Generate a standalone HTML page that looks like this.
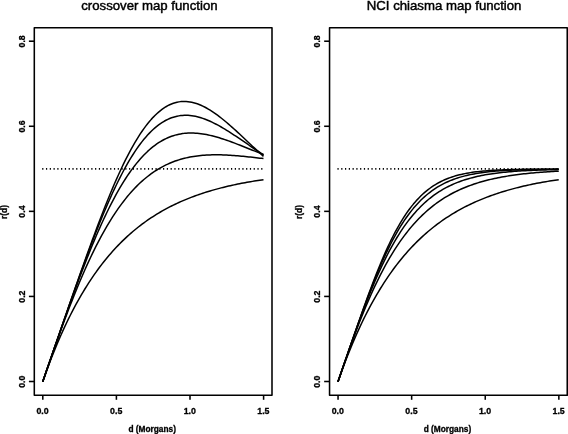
<!DOCTYPE html>
<html lang="en"><head><meta charset="utf-8"><title>map functions</title>
<style>
html,body{margin:0;padding:0;background:#fff;}
body{width:568px;height:434px;overflow:hidden;}
svg{display:block;}
.ttl{stroke:#000;stroke-width:0.45px;}
.lab text{stroke:#000;stroke-width:0.3px;}
</style></head><body>
<svg width="568" height="434" viewBox="0 0 568 434">
<rect x="0" y="0" width="568" height="434" fill="#fff"/>
<g fill="none" stroke="#000" stroke-width="1.55" stroke-linejoin="round" stroke-linecap="butt">
<rect x="34.30" y="27.75" width="237.70" height="367.50"/>
<line x1="42.80" y1="395.25" x2="42.80" y2="399.80"/>
<line x1="116.40" y1="395.25" x2="116.40" y2="399.80"/>
<line x1="190.00" y1="395.25" x2="190.00" y2="399.80"/>
<line x1="263.60" y1="395.25" x2="263.60" y2="399.80"/>
<line x1="34.30" y1="381.50" x2="28.90" y2="381.50"/>
<line x1="34.30" y1="296.43" x2="28.90" y2="296.43"/>
<line x1="34.30" y1="211.35" x2="28.90" y2="211.35"/>
<line x1="34.30" y1="126.27" x2="28.90" y2="126.27"/>
<line x1="34.30" y1="41.20" x2="28.90" y2="41.20"/>
</g>
<g fill="none" stroke="#000" stroke-width="1.5" stroke-linejoin="round" stroke-linecap="butt">
<polyline points="42.70,381.75 44.54,376.50 46.38,371.38 48.22,366.38 50.06,361.51 51.90,356.76 53.74,352.12 55.58,347.60 57.42,343.20 59.26,338.90 61.10,334.70 62.94,330.61 64.78,326.63 66.62,322.74 68.46,318.94 70.30,315.24 72.14,311.63 73.98,308.11 75.82,304.68 77.66,301.33 79.50,298.06 81.34,294.88 83.18,291.77 85.02,288.74 86.86,285.79 88.70,282.91 90.54,280.10 92.38,277.35 94.22,274.68 96.06,272.07 97.90,269.53 99.74,267.05 101.58,264.63 103.42,262.27 105.26,259.97 107.10,257.72 108.94,255.53 110.78,253.40 112.62,251.32 114.46,249.29 116.30,247.31 118.14,245.37 119.98,243.49 121.82,241.65 123.66,239.86 125.50,238.11 127.34,236.41 129.18,234.74 131.02,233.12 132.86,231.54 134.70,230.00 136.54,228.49 138.38,227.03 140.22,225.60 142.06,224.20 143.90,222.84 145.74,221.51 147.58,220.22 149.42,218.95 151.26,217.72 153.10,216.52 154.94,215.35 156.78,214.20 158.62,213.09 160.46,212.00 162.30,210.94 164.14,209.91 165.98,208.90 167.82,207.92 169.66,206.96 171.50,206.02 173.34,205.11 175.18,204.22 177.02,203.35 178.86,202.50 180.70,201.68 182.54,200.87 184.38,200.09 186.22,199.32 188.06,198.58 189.90,197.85 191.74,197.14 193.58,196.44 195.42,195.77 197.26,195.11 199.10,194.46 200.94,193.84 202.78,193.23 204.62,192.63 206.46,192.05 208.30,191.48 210.14,190.93 211.98,190.39 213.82,189.86 215.66,189.35 217.50,188.85 219.34,188.36 221.18,187.88 223.02,187.42 224.86,186.96 226.70,186.52 228.54,186.09 230.38,185.67 232.22,185.26 234.06,184.86 235.90,184.47 237.74,184.09 239.58,183.72 241.42,183.36 243.26,183.00 245.10,182.66 246.94,182.32 248.78,182.00 250.62,181.68 252.46,181.37 254.30,181.06 256.14,180.77 257.98,180.48 259.82,180.19 261.66,179.92 263.50,179.65"/>
<polyline points="42.70,381.75 44.54,376.43 46.38,371.12 48.22,365.83 50.06,360.55 51.90,355.29 53.74,350.07 55.58,344.88 57.42,339.73 59.26,334.62 61.10,329.55 62.94,324.54 64.78,319.59 66.62,314.69 68.46,309.85 70.30,305.08 72.14,300.38 73.98,295.74 75.82,291.18 77.66,286.69 79.50,282.27 81.34,277.93 83.18,273.68 85.02,269.50 86.86,265.40 88.70,261.39 90.54,257.45 92.38,253.61 94.22,249.84 96.06,246.17 97.90,242.57 99.74,239.07 101.58,235.64 103.42,232.31 105.26,229.06 107.10,225.89 108.94,222.81 110.78,219.82 112.62,216.91 114.46,214.08 116.30,211.34 118.14,208.68 119.98,206.10 121.82,203.60 123.66,201.18 125.50,198.84 127.34,196.57 129.18,194.39 131.02,192.28 132.86,190.24 134.70,188.28 136.54,186.39 138.38,184.57 140.22,182.82 142.06,181.14 143.90,179.52 145.74,177.98 147.58,176.49 149.42,175.07 151.26,173.72 153.10,172.42 154.94,171.18 156.78,170.00 158.62,168.88 160.46,167.81 162.30,166.79 164.14,165.83 165.98,164.92 167.82,164.06 169.66,163.24 171.50,162.47 173.34,161.75 175.18,161.07 177.02,160.44 178.86,159.85 180.70,159.29 182.54,158.78 184.38,158.30 186.22,157.86 188.06,157.46 189.90,157.08 191.74,156.75 193.58,156.44 195.42,156.16 197.26,155.91 199.10,155.69 200.94,155.50 202.78,155.34 204.62,155.19 206.46,155.08 208.30,154.98 210.14,154.91 211.98,154.85 213.82,154.82 215.66,154.81 217.50,154.81 219.34,154.83 221.18,154.87 223.02,154.93 224.86,154.99 226.70,155.08 228.54,155.17 230.38,155.28 232.22,155.40 234.06,155.53 235.90,155.67 237.74,155.82 239.58,155.97 241.42,156.14 243.26,156.31 245.10,156.50 246.94,156.68 248.78,156.88 250.62,157.08 252.46,157.28 254.30,157.49 256.14,157.70 257.98,157.92 259.82,158.13 261.66,158.36 263.50,158.58"/>
<polyline points="42.70,381.75 44.54,376.43 46.38,371.12 48.22,365.80 50.06,360.49 51.90,355.18 53.74,349.87 55.58,344.58 57.42,339.29 59.26,334.02 61.10,328.77 62.94,323.53 64.78,318.31 66.62,313.13 68.46,307.97 70.30,302.84 72.14,297.75 73.98,292.70 75.82,287.69 77.66,282.73 79.50,277.81 81.34,272.95 83.18,268.15 85.02,263.40 86.86,258.72 88.70,254.10 90.54,249.55 92.38,245.06 94.22,240.66 96.06,236.32 97.90,232.07 99.74,227.89 101.58,223.80 103.42,219.79 105.26,215.87 107.10,212.03 108.94,208.28 110.78,204.63 112.62,201.06 114.46,197.59 116.30,194.21 118.14,190.93 119.98,187.74 121.82,184.64 123.66,181.65 125.50,178.75 127.34,175.94 129.18,173.24 131.02,170.63 132.86,168.11 134.70,165.70 136.54,163.37 138.38,161.15 140.22,159.02 142.06,156.98 143.90,155.04 145.74,153.19 147.58,151.43 149.42,149.76 151.26,148.18 153.10,146.69 154.94,145.28 156.78,143.96 158.62,142.73 160.46,141.58 162.30,140.50 164.14,139.51 165.98,138.60 167.82,137.76 169.66,137.00 171.50,136.31 173.34,135.69 175.18,135.14 177.02,134.66 178.86,134.24 180.70,133.89 182.54,133.60 184.38,133.37 186.22,133.19 188.06,133.08 189.90,133.02 191.74,133.01 193.58,133.05 195.42,133.13 197.26,133.27 199.10,133.45 200.94,133.67 202.78,133.94 204.62,134.24 206.46,134.58 208.30,134.95 210.14,135.36 211.98,135.80 213.82,136.27 215.66,136.77 217.50,137.29 219.34,137.84 221.18,138.41 223.02,139.00 224.86,139.62 226.70,140.25 228.54,140.89 230.38,141.56 232.22,142.23 234.06,142.92 235.90,143.62 237.74,144.33 239.58,145.04 241.42,145.77 243.26,146.50 245.10,147.23 246.94,147.97 248.78,148.70 250.62,149.44 252.46,150.18 254.30,150.92 256.14,151.66 257.98,152.39 259.82,153.12 261.66,153.84 263.50,154.56"/>
<polyline points="42.70,381.75 44.54,376.43 46.38,371.12 48.22,365.80 50.06,360.48 51.90,355.17 53.74,349.85 55.58,344.54 57.42,339.23 59.26,333.92 61.10,328.62 62.94,323.32 64.78,318.04 66.62,312.76 68.46,307.50 70.30,302.25 72.14,297.02 73.98,291.81 75.82,286.62 77.66,281.46 79.50,276.33 81.34,271.23 83.18,266.17 85.02,261.15 86.86,256.17 88.70,251.23 90.54,246.34 92.38,241.51 94.22,236.74 96.06,232.02 97.90,227.37 99.74,222.78 101.58,218.26 103.42,213.82 105.26,209.45 107.10,205.16 108.94,200.95 110.78,196.82 112.62,192.79 114.46,188.84 116.30,184.98 118.14,181.22 119.98,177.55 121.82,173.99 123.66,170.52 125.50,167.15 127.34,163.89 129.18,160.73 131.02,157.68 132.86,154.73 134.70,151.89 136.54,149.16 138.38,146.54 140.22,144.03 142.06,141.63 143.90,139.34 145.74,137.16 147.58,135.08 149.42,133.12 151.26,131.27 153.10,129.52 154.94,127.88 156.78,126.35 158.62,124.93 160.46,123.61 162.30,122.39 164.14,121.28 165.98,120.27 167.82,119.35 169.66,118.54 171.50,117.82 173.34,117.20 175.18,116.66 177.02,116.22 178.86,115.87 180.70,115.61 182.54,115.43 184.38,115.33 186.22,115.31 188.06,115.37 189.90,115.51 191.74,115.72 193.58,116.00 195.42,116.35 197.26,116.76 199.10,117.24 200.94,117.78 202.78,118.38 204.62,119.03 206.46,119.74 208.30,120.50 210.14,121.30 211.98,122.15 213.82,123.05 215.66,123.98 217.50,124.95 219.34,125.96 221.18,127.00 223.02,128.07 224.86,129.17 226.70,130.30 228.54,131.45 230.38,132.62 232.22,133.81 234.06,135.01 235.90,136.23 237.74,137.46 239.58,138.71 241.42,139.96 243.26,141.21 245.10,142.47 246.94,143.73 248.78,145.00 250.62,146.26 252.46,147.51 254.30,148.76 256.14,150.01 257.98,151.24 259.82,152.47 261.66,153.68 263.50,154.89"/>
<polyline points="42.70,381.75 44.54,376.43 46.38,371.12 48.22,365.80 50.06,360.48 51.90,355.16 53.74,349.85 55.58,344.53 57.42,339.22 59.26,333.90 61.10,328.59 62.94,323.28 64.78,317.97 66.62,312.66 68.46,307.37 70.30,302.08 72.14,296.79 73.98,291.52 75.82,286.26 77.66,281.01 79.50,275.78 81.34,270.57 83.18,265.39 85.02,260.22 86.86,255.09 88.70,249.98 90.54,244.92 92.38,239.88 94.22,234.89 96.06,229.95 97.90,225.05 99.74,220.21 101.58,215.42 103.42,210.70 105.26,206.03 107.10,201.44 108.94,196.91 110.78,192.46 112.62,188.09 114.46,183.80 116.30,179.59 118.14,175.47 119.98,171.45 121.82,167.51 123.66,163.68 125.50,159.94 127.34,156.31 129.18,152.78 131.02,149.37 132.86,146.06 134.70,142.86 136.54,139.78 138.38,136.81 140.22,133.96 142.06,131.22 143.90,128.61 145.74,126.12 147.58,123.75 149.42,121.49 151.26,119.37 153.10,117.36 154.94,115.48 156.78,113.72 158.62,112.08 160.46,110.56 162.30,109.17 164.14,107.89 165.98,106.73 167.82,105.70 169.66,104.77 171.50,103.97 173.34,103.28 175.18,102.70 177.02,102.23 178.86,101.88 180.70,101.62 182.54,101.48 184.38,101.43 186.22,101.49 188.06,101.65 189.90,101.89 191.74,102.24 193.58,102.67 195.42,103.19 197.26,103.80 199.10,104.48 200.94,105.25 202.78,106.09 204.62,107.00 206.46,107.99 208.30,109.04 210.14,110.15 211.98,111.33 213.82,112.56 215.66,113.85 217.50,115.18 219.34,116.57 221.18,118.00 223.02,119.47 224.86,120.98 226.70,122.53 228.54,124.10 230.38,125.71 232.22,127.34 234.06,129.00 235.90,130.67 237.74,132.36 239.58,134.07 241.42,135.79 243.26,137.52 245.10,139.25 246.94,140.98 248.78,142.72 250.62,144.45 252.46,146.18 254.30,147.91 256.14,149.62 257.98,151.32 259.82,153.01 261.66,154.68 263.50,156.33"/>
</g>
<line x1="42.20" y1="168.91" x2="262.80" y2="168.91" stroke="#000" stroke-width="1.6" stroke-dasharray="1.2 2.576"/>
<g font-family="'Liberation Sans', Arial, Helvetica, sans-serif" fill="#000">
<text x="149.40" y="10.1" font-size="13.2" text-anchor="middle" class="ttl">crossover map function</text>
<g font-size="8.3" font-weight="bold" text-anchor="middle" class="lab">
<text x="42.60" y="413.7" font-size="8.8">0.0</text>
<text x="116.20" y="413.7" font-size="8.8">0.5</text>
<text x="189.80" y="413.7" font-size="8.8">1.0</text>
<text x="263.40" y="413.7" font-size="8.8">1.5</text>
<text transform="translate(25.20 381.70) rotate(-90)" font-size="8.8">0.0</text>
<text transform="translate(25.20 296.62) rotate(-90)" font-size="8.8">0.2</text>
<text transform="translate(25.20 211.55) rotate(-90)" font-size="8.8">0.4</text>
<text transform="translate(25.20 126.47) rotate(-90)" font-size="8.8">0.6</text>
<text transform="translate(25.20 41.40) rotate(-90)" font-size="8.8">0.8</text>
<text x="152.20" y="432.4">d (Morgans)</text>
<text transform="translate(6.90 212.00) rotate(-90)">r(d)</text>
</g></g>
<g fill="none" stroke="#000" stroke-width="1.55" stroke-linejoin="round" stroke-linecap="butt">
<rect x="329.55" y="27.75" width="237.70" height="367.50"/>
<line x1="338.05" y1="395.25" x2="338.05" y2="399.80"/>
<line x1="411.65" y1="395.25" x2="411.65" y2="399.80"/>
<line x1="485.25" y1="395.25" x2="485.25" y2="399.80"/>
<line x1="558.85" y1="395.25" x2="558.85" y2="399.80"/>
<line x1="329.55" y1="381.50" x2="324.15" y2="381.50"/>
<line x1="329.55" y1="296.43" x2="324.15" y2="296.43"/>
<line x1="329.55" y1="211.35" x2="324.15" y2="211.35"/>
<line x1="329.55" y1="126.27" x2="324.15" y2="126.27"/>
<line x1="329.55" y1="41.20" x2="324.15" y2="41.20"/>
</g>
<g fill="none" stroke="#000" stroke-width="1.5" stroke-linejoin="round" stroke-linecap="butt">
<polyline points="337.95,381.75 339.79,376.50 341.63,371.38 343.47,366.38 345.31,361.51 347.15,356.76 348.99,352.12 350.83,347.60 352.67,343.20 354.51,338.90 356.35,334.70 358.19,330.61 360.03,326.63 361.87,322.74 363.71,318.94 365.55,315.24 367.39,311.63 369.23,308.11 371.07,304.68 372.91,301.33 374.75,298.06 376.59,294.88 378.43,291.77 380.27,288.74 382.11,285.79 383.95,282.91 385.79,280.10 387.63,277.35 389.47,274.68 391.31,272.07 393.15,269.53 394.99,267.05 396.83,264.63 398.67,262.27 400.51,259.97 402.35,257.72 404.19,255.53 406.03,253.40 407.87,251.32 409.71,249.29 411.55,247.31 413.39,245.37 415.23,243.49 417.07,241.65 418.91,239.86 420.75,238.11 422.59,236.41 424.43,234.74 426.27,233.12 428.11,231.54 429.95,230.00 431.79,228.49 433.63,227.03 435.47,225.60 437.31,224.20 439.15,222.84 440.99,221.51 442.83,220.22 444.67,218.95 446.51,217.72 448.35,216.52 450.19,215.35 452.03,214.20 453.87,213.09 455.71,212.00 457.55,210.94 459.39,209.91 461.23,208.90 463.07,207.92 464.91,206.96 466.75,206.02 468.59,205.11 470.43,204.22 472.27,203.35 474.11,202.50 475.95,201.68 477.79,200.87 479.63,200.09 481.47,199.32 483.31,198.58 485.15,197.85 486.99,197.14 488.83,196.44 490.67,195.77 492.51,195.11 494.35,194.46 496.19,193.84 498.03,193.23 499.87,192.63 501.71,192.05 503.55,191.48 505.39,190.93 507.23,190.39 509.07,189.86 510.91,189.35 512.75,188.85 514.59,188.36 516.43,187.88 518.27,187.42 520.11,186.96 521.95,186.52 523.79,186.09 525.63,185.67 527.47,185.26 529.31,184.86 531.15,184.47 532.99,184.09 534.83,183.72 536.67,183.36 538.51,183.00 540.35,182.66 542.19,182.32 544.03,182.00 545.87,181.68 547.71,181.37 549.55,181.06 551.39,180.77 553.23,180.48 555.07,180.19 556.91,179.92 558.75,179.65"/>
<polyline points="337.95,381.75 339.79,376.43 341.63,371.13 343.47,365.85 345.31,360.61 347.15,355.41 348.99,350.26 350.83,345.17 352.67,340.14 354.51,335.19 356.35,330.31 358.19,325.52 360.03,320.81 361.87,316.18 363.71,311.65 365.55,307.20 367.39,302.86 369.23,298.60 371.07,294.45 372.91,290.39 374.75,286.43 376.59,282.56 378.43,278.80 380.27,275.13 382.11,271.56 383.95,268.08 385.79,264.70 387.63,261.42 389.47,258.22 391.31,255.12 393.15,252.11 394.99,249.19 396.83,246.36 398.67,243.61 400.51,240.94 402.35,238.36 404.19,235.86 406.03,233.44 407.87,231.09 409.71,228.83 411.55,226.63 413.39,224.51 415.23,222.45 417.07,220.47 418.91,218.55 420.75,216.70 422.59,214.91 424.43,213.18 426.27,211.51 428.11,209.90 429.95,208.34 431.79,206.84 433.63,205.40 435.47,204.00 437.31,202.65 439.15,201.35 440.99,200.10 442.83,198.90 444.67,197.73 446.51,196.61 448.35,195.54 450.19,194.50 452.03,193.50 453.87,192.53 455.71,191.60 457.55,190.71 459.39,189.85 461.23,189.02 463.07,188.23 464.91,187.46 466.75,186.72 468.59,186.02 470.43,185.33 472.27,184.68 474.11,184.05 475.95,183.44 477.79,182.86 479.63,182.30 481.47,181.76 483.31,181.25 485.15,180.75 486.99,180.27 488.83,179.81 490.67,179.37 492.51,178.95 494.35,178.54 496.19,178.15 498.03,177.78 499.87,177.42 501.71,177.07 503.55,176.74 505.39,176.42 507.23,176.12 509.07,175.82 510.91,175.54 512.75,175.27 514.59,175.01 516.43,174.77 518.27,174.53 520.11,174.30 521.95,174.08 523.79,173.87 525.63,173.67 527.47,173.47 529.31,173.29 531.15,173.11 532.99,172.94 534.83,172.77 536.67,172.62 538.51,172.47 540.35,172.32 542.19,172.18 544.03,172.05 545.87,171.92 547.71,171.80 549.55,171.69 551.39,171.57 553.23,171.47 555.07,171.36 556.91,171.27 558.75,171.17"/>
<polyline points="337.95,381.75 339.79,376.43 341.63,371.12 343.47,365.81 345.31,360.50 347.15,355.21 348.99,349.94 350.83,344.69 352.67,339.48 354.51,334.31 356.35,329.18 358.19,324.11 360.03,319.09 361.87,314.14 363.71,309.27 365.55,304.46 367.39,299.75 369.23,295.11 371.07,290.57 372.91,286.12 374.75,281.77 376.59,277.52 378.43,273.37 380.27,269.33 382.11,265.39 383.95,261.56 385.79,257.84 387.63,254.22 389.47,250.71 391.31,247.31 393.15,244.02 394.99,240.83 396.83,237.75 398.67,234.77 400.51,231.90 402.35,229.13 404.19,226.45 406.03,223.88 407.87,221.40 409.71,219.01 411.55,216.71 413.39,214.51 415.23,212.39 417.07,210.35 418.91,208.40 420.75,206.53 422.59,204.74 424.43,203.02 426.27,201.37 428.11,199.80 429.95,198.29 431.79,196.85 433.63,195.47 435.47,194.16 437.31,192.90 439.15,191.70 440.99,190.56 442.83,189.47 444.67,188.43 446.51,187.43 448.35,186.49 450.19,185.59 452.03,184.73 453.87,183.91 455.71,183.14 457.55,182.40 459.39,181.69 461.23,181.02 463.07,180.39 464.91,179.79 466.75,179.21 468.59,178.67 470.43,178.15 472.27,177.66 474.11,177.19 475.95,176.75 477.79,176.33 479.63,175.93 481.47,175.56 483.31,175.20 485.15,174.86 486.99,174.54 488.83,174.24 490.67,173.95 492.51,173.68 494.35,173.42 496.19,173.17 498.03,172.94 499.87,172.73 501.71,172.52 503.55,172.32 505.39,172.14 507.23,171.96 509.07,171.80 510.91,171.64 512.75,171.49 514.59,171.36 516.43,171.22 518.27,171.10 520.11,170.98 521.95,170.87 523.79,170.77 525.63,170.67 527.47,170.57 529.31,170.49 531.15,170.40 532.99,170.33 534.83,170.25 536.67,170.18 538.51,170.12 540.35,170.05 542.19,170.00 544.03,169.94 545.87,169.89 547.71,169.84 549.55,169.79 551.39,169.75 553.23,169.71 555.07,169.67 556.91,169.63 558.75,169.60"/>
<polyline points="337.95,381.75 339.79,376.43 341.63,371.12 343.47,365.80 345.31,360.48 347.15,355.17 348.99,349.87 350.83,344.58 352.67,339.30 354.51,334.04 356.35,328.81 358.19,323.61 360.03,318.45 361.87,313.34 363.71,308.28 365.55,303.28 367.39,298.34 369.23,293.48 371.07,288.70 372.91,284.01 374.75,279.40 376.59,274.89 378.43,270.48 380.27,266.18 382.11,261.99 383.95,257.90 385.79,253.93 387.63,250.07 389.47,246.34 391.31,242.72 393.15,239.22 394.99,235.83 396.83,232.57 398.67,229.43 400.51,226.40 402.35,223.49 404.19,220.69 406.03,218.01 407.87,215.44 409.71,212.97 411.55,210.61 413.39,208.36 415.23,206.21 417.07,204.16 418.91,202.20 420.75,200.33 422.59,198.56 424.43,196.87 426.27,195.26 428.11,193.74 429.95,192.29 431.79,190.92 433.63,189.62 435.47,188.39 437.31,187.22 439.15,186.12 440.99,185.07 442.83,184.09 444.67,183.16 446.51,182.28 448.35,181.45 450.19,180.67 452.03,179.94 453.87,179.24 455.71,178.59 457.55,177.98 459.39,177.40 461.23,176.86 463.07,176.35 464.91,175.87 466.75,175.42 468.59,175.00 470.43,174.61 472.27,174.24 474.11,173.89 475.95,173.56 477.79,173.26 479.63,172.97 481.47,172.71 483.31,172.46 485.15,172.23 486.99,172.01 488.83,171.80 490.67,171.61 492.51,171.44 494.35,171.27 496.19,171.12 498.03,170.97 499.87,170.84 501.71,170.71 503.55,170.59 505.39,170.49 507.23,170.38 509.07,170.29 510.91,170.20 512.75,170.12 514.59,170.04 516.43,169.97 518.27,169.91 520.11,169.85 521.95,169.79 523.79,169.74 525.63,169.69 527.47,169.64 529.31,169.60 531.15,169.56 532.99,169.52 534.83,169.49 536.67,169.46 538.51,169.43 540.35,169.40 542.19,169.37 544.03,169.35 545.87,169.33 547.71,169.31 549.55,169.29 551.39,169.27 553.23,169.26 555.07,169.24 556.91,169.23 558.75,169.22"/>
<polyline points="337.95,381.75 339.79,376.43 341.63,371.12 343.47,365.80 345.31,360.48 347.15,355.17 348.99,349.85 350.83,344.54 352.67,339.24 354.51,333.95 356.35,328.67 358.19,323.41 360.03,318.18 361.87,312.98 363.71,307.82 365.55,302.70 367.39,297.63 369.23,292.63 371.07,287.69 372.91,282.82 374.75,278.04 376.59,273.35 378.43,268.75 380.27,264.25 382.11,259.86 383.95,255.59 385.79,251.42 387.63,247.38 389.47,243.46 391.31,239.67 393.15,236.00 394.99,232.46 396.83,229.05 398.67,225.77 400.51,222.63 402.35,219.61 404.19,216.71 406.03,213.95 407.87,211.30 409.71,208.78 411.55,206.38 413.39,204.10 415.23,201.93 417.07,199.87 418.91,197.91 420.75,196.06 422.59,194.31 424.43,192.66 426.27,191.10 428.11,189.63 429.95,188.24 431.79,186.94 433.63,185.71 435.47,184.56 437.31,183.47 439.15,182.46 440.99,181.51 442.83,180.62 444.67,179.79 446.51,179.01 448.35,178.28 450.19,177.60 452.03,176.97 453.87,176.38 455.71,175.83 457.55,175.32 459.39,174.84 461.23,174.40 463.07,173.99 464.91,173.61 466.75,173.26 468.59,172.93 470.43,172.63 472.27,172.34 474.11,172.08 475.95,171.84 477.79,171.62 479.63,171.42 481.47,171.23 483.31,171.05 485.15,170.89 486.99,170.74 488.83,170.60 490.67,170.47 492.51,170.36 494.35,170.25 496.19,170.15 498.03,170.06 499.87,169.97 501.71,169.90 503.55,169.83 505.39,169.76 507.23,169.70 509.07,169.65 510.91,169.60 512.75,169.55 514.59,169.51 516.43,169.47 518.27,169.44 520.11,169.40 521.95,169.37 523.79,169.35 525.63,169.32 527.47,169.30 529.31,169.28 531.15,169.26 532.99,169.24 534.83,169.22 536.67,169.21 538.51,169.20 540.35,169.19 542.19,169.17 544.03,169.16 545.87,169.15 547.71,169.15 549.55,169.14 551.39,169.13 553.23,169.13 555.07,169.12 556.91,169.11 558.75,169.11"/>
</g>
<line x1="337.45" y1="168.91" x2="558.05" y2="168.91" stroke="#000" stroke-width="1.6" stroke-dasharray="1.2 2.576"/>
<g font-family="'Liberation Sans', Arial, Helvetica, sans-serif" fill="#000">
<text x="444.10" y="10.1" font-size="13.2" text-anchor="middle" class="ttl">NCI chiasma map function</text>
<g font-size="8.3" font-weight="bold" text-anchor="middle" class="lab">
<text x="337.85" y="413.7" font-size="8.8">0.0</text>
<text x="411.45" y="413.7" font-size="8.8">0.5</text>
<text x="485.05" y="413.7" font-size="8.8">1.0</text>
<text x="558.65" y="413.7" font-size="8.8">1.5</text>
<text transform="translate(320.45 381.70) rotate(-90)" font-size="8.8">0.0</text>
<text transform="translate(320.45 296.62) rotate(-90)" font-size="8.8">0.2</text>
<text transform="translate(320.45 211.55) rotate(-90)" font-size="8.8">0.4</text>
<text transform="translate(320.45 126.47) rotate(-90)" font-size="8.8">0.6</text>
<text transform="translate(320.45 41.40) rotate(-90)" font-size="8.8">0.8</text>
<text x="447.45" y="432.4">d (Morgans)</text>
<text transform="translate(302.15 212.00) rotate(-90)">r(d)</text>
</g></g>
</svg>
</body></html>
